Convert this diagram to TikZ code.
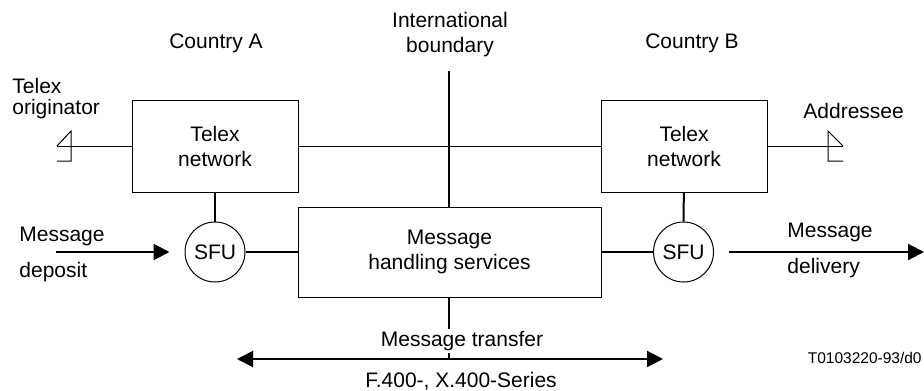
\documentclass[tikz,border=0pt]{standalone}
\usepackage{fontspec}
\setmainfont{Liberation Sans}
\usetikzlibrary{arrows.meta}

\begin{document}
\begin{tikzpicture}[x=0.5pt, y=-0.5pt,
	every node/.style={font=\fontsize{10.5}{12.5}\selectfont, inner sep=0pt},
	netbox/.style={draw, line width=0.5pt, fill=white, align=center, minimum width=83pt, minimum height=46pt},
	mhsbox/.style={draw, line width=0.5pt, fill=white, align=center, minimum width=151.5pt, minimum height=45pt},
	sfunode/.style={draw, circle, line width=0.5pt, fill=white, minimum size=30pt},
	link/.style={line width=1pt},
	telexline/.style={line width=0.5pt},
	msgarrow/.style={line width=1pt, -{Triangle[length=8pt, width=8pt]}}]
			%%%%% START %%%%%
			\useasboundingbox (0, 0) rectangle (924, 390);
			
			\coordinate (bdtop) at (449, 71);
			\coordinate (bdbot) at (449, 359);
			\draw[line width=0.75pt] (bdtop) -- (bdbot);
			
			\node[netbox] (telexA) at (215, 146) {Telex\\network};
			\node[netbox] (telexB) at (684, 146) {Telex\\network};
			\node[mhsbox] (mhs) at (449.5, 252) {Message\\handling services};
			\node[sfunode] (sfuA) at (215, 252) {SFU};
			\node[sfunode] (sfuB) at (683.5, 252) {SFU};
			
			\draw[telexline] (telexA) -- (telexB);
			\draw[link] (telexA) -- (sfuA);
			\draw[link] (telexB) -- (sfuB);
			\draw[link] (sfuA) -- (mhs);
			\draw[link] (mhs) -- (sfuB);
			
			% terminals
			\coordinate (orig) at (57, 146);
			\coordinate (addr) at (843, 146);
			\draw[telexline] (orig) -- (telexA);
			\draw[telexline] (57, 146) -- (71, 131) -- (71, 161) -- (57, 161);
			\draw[telexline] (telexB) -- (addr);
			\draw[telexline] (843, 146) -- (828, 131) -- (828, 161) -- (843, 161);
			
			% deposit and delivery
			\coordinate (depin) at (56, 252);
			\coordinate (delout) at (924, 252);
			\draw[msgarrow] (depin) -- ([xshift=-7.5pt]sfuA.west);
			\draw[msgarrow] ([xshift=7.5pt]sfuB.east) -- (delout);
			
			% transfer
			\coordinate (mtl) at (237, 359);
			\coordinate (mtr) at (663, 359);
			\draw[line width=1pt, {Triangle[length=8pt, width=8pt]}-{Triangle[length=8pt, width=8pt]}] (mtl) -- (mtr);
			\node[fill=white, inner sep=1pt] (mtlabel) at (462, 341) {Message transfer};
			\node (series) at (461, 381) {F.400-, X.400-Series};
			
			% labels
			\node (ctyA) at (216, 43) {Country A};
			\node (ctyB) at (692, 43) {Country B};
			\node[align=center] (boundary) at (450, 35) {International\\boundary};
			\node[anchor=base west] (origA) at (12, 93) {Telex};
			\node[anchor=base west] (origB) at (12, 114) {originator};
			\node[anchor=west] (addressee) at (803, 111) {Addressee};
			\node[anchor=west] (depA) at (19, 236) {Message};
			\node[anchor=west] (depB) at (19, 272) {deposit};
			\node[anchor=west] (delA) at (787, 232) {Message};
			\node[anchor=west] (delB) at (787, 268) {delivery};
			\node[anchor=east, font=\fontsize{7.75}{9}\selectfont] (figref) at (922, 358) {T0103220-93/d0};
			
			%%%%% END %%%%%
		\end{tikzpicture}
\end{document}
